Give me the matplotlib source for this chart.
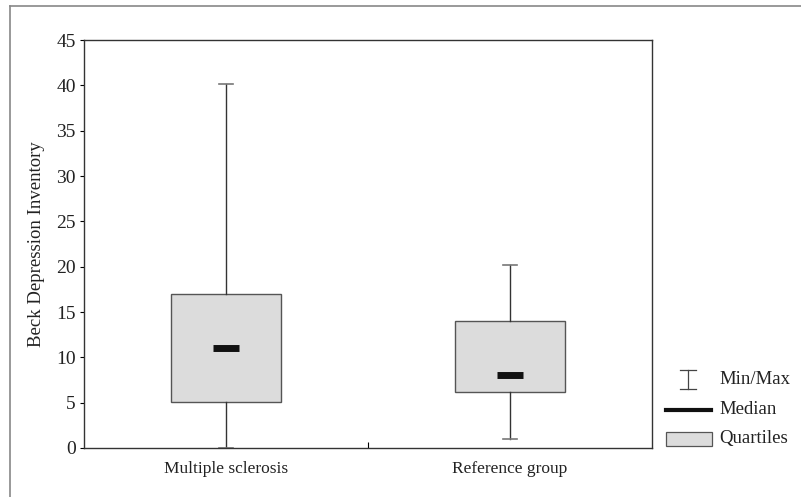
import matplotlib
matplotlib.use("Agg")
import matplotlib.pyplot as plt
from matplotlib.lines import Line2D
from matplotlib.patches import Rectangle

# values
groups = ["Multiple sclerosis", "Reference group"]
mins = [0.0, 1.0]
q1 = [5.1, 6.2]
medians = [11.0, 8.1]
q3 = [17.0, 14.0]
maxs = [40.2, 20.2]
positions = [0.5, 1.5]
yticks = [0, 5, 10, 15, 20, 25, 30, 35, 40, 45]

plt.rcParams["font.family"] = ["Liberation Serif", "DejaVu Serif"]
plt.rcParams["font.size"] = 11

fig = plt.figure(figsize=(8.01, 4.97), dpi=100)
ax = fig.add_axes([0.1049, 0.0986, 0.7091, 0.8209])

stats = []
for i, g in enumerate(groups):
    stats.append({"label": g, "whislo": mins[i], "q1": q1[i], "med": medians[i],
                  "q3": q3[i], "whishi": maxs[i], "fliers": []})

ax.bxp(stats, positions=positions, widths=0.39, patch_artist=True, showfliers=False,
       capwidths=0.05,
       boxprops=dict(facecolor="#dcdcdc", edgecolor="#555555", linewidth=1.0),
       whiskerprops=dict(color="#333333", linewidth=1.0),
       capprops=dict(color="#777777", linewidth=1.2),
       medianprops=dict(linewidth=0))
ax.hlines(medians, [p - 0.045 for p in positions], [p + 0.045 for p in positions],
          colors="#111111", linewidth=5, zorder=4)

ax.set_xlim(0, 2)
ax.set_ylim(0, 45)
ax.set_yticks(yticks)
ax.set_xticks([1])
ax.set_xticklabels([""])
ax.tick_params(axis="x", direction="in", length=4, width=0.8)
ax.tick_params(axis="y", direction="out", length=3, width=0.8, pad=3, labelsize=14,
               labelcolor="#222222")
for i, g in enumerate(groups):
    ax.text(positions[i], -1.4, g, ha="center", va="top", fontsize=12.5, color="#222222")
for s in ax.spines.values():
    s.set_color("#333333")
    s.set_linewidth(1.0)
ax.set_ylabel("Beck Depression Inventory", fontsize=13.5, labelpad=8, color="#222222")

# legend drawn in figure coordinates
W, H = 801, 497
def fx(x):
    return x / W
def fy(y):
    return 1 - y / H

cx = 688
fig.add_artist(Line2D([fx(cx), fx(cx)], [fy(370), fy(389)], color="#444444", lw=0.9))
fig.add_artist(Line2D([fx(cx - 8), fx(cx + 8)], [fy(370), fy(370)], color="#444444", lw=0.9))
fig.add_artist(Line2D([fx(cx - 8), fx(cx + 8)], [fy(389), fy(389)], color="#444444", lw=0.9))
fig.add_artist(Line2D([fx(666), fx(711)], [fy(410), fy(410)], color="#111111", lw=3))
fig.add_artist(Rectangle((fx(666), fy(446)), fx(46), 14 / H, facecolor="#dcdcdc",
                         edgecolor="#555555", lw=0.9))
fig.text(fx(719), fy(380), "Min/Max", va="center", ha="left", fontsize=13.5, color="#222222")
fig.text(fx(719), fy(410), "Median", va="center", ha="left", fontsize=13.5, color="#222222")
fig.text(fx(719), fy(439), "Quartiles", va="center", ha="left", fontsize=13.5, color="#222222")

# outer frame (left and top edges visible)
fig.add_artist(Line2D([fx(9.5), fx(9.5)], [fy(6), 0], color="#888888", lw=1.2))
fig.add_artist(Line2D([fx(9.5), 1], [fy(6), fy(6)], color="#888888", lw=1.2))

fig.savefig("out.png", dpi=100)
